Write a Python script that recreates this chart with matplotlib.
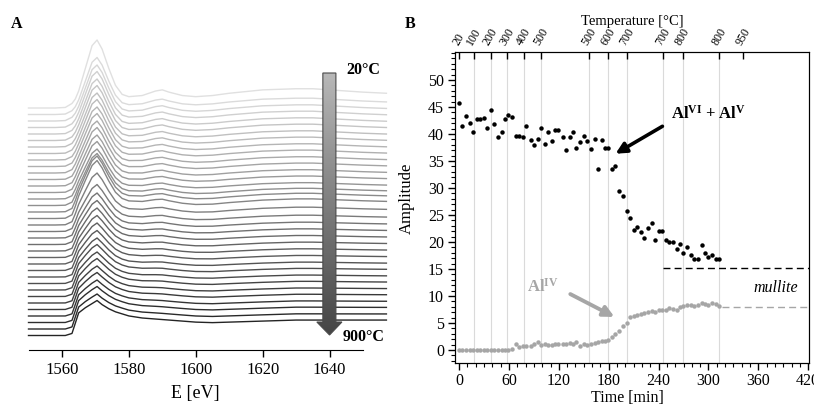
"""XANES spectra stack (A) and Al coordination amplitudes vs time (B)."""
import numpy as np
import matplotlib.pyplot as plt
from matplotlib.patches import Polygon

plt.rcParams['font.family'] = ['Liberation Serif', 'DejaVu Serif']
plt.rcParams['mathtext.fontset'] = 'custom'
plt.rcParams['mathtext.rm'] = 'Liberation Serif'
plt.rcParams['mathtext.bf'] = 'Liberation Serif:bold'
plt.rcParams['mathtext.it'] = 'Liberation Serif:italic'

# ---- panel A: spectra (shapes, px above each baseline)
energy_ev = [1550, 1558, 1561, 1563, 1564, 1565, 1567, 1569, 1570.5, 1572, 1574,
             1576, 1578, 1580, 1584, 1588, 1590, 1592, 1596, 1600, 1605, 1610,
             1620, 1630, 1635, 1640, 1650, 1657]
shape_20c = [0, 0, 0.5, 4, 8, 15, 35, 55, 60, 52, 35, 20, 12, 10, 11, 15, 16, 14,
             11, 10, 11, 13, 16, 17, 17, 16, 14, 13]
shape_900c = [0, 0, 0, 2, 12, 22, 27, 31, 34, 30, 26, 23, 21, 19, 17, 16, 15.5,
              15, 14, 13, 12.5, 13, 14, 15, 15, 15, 15, 15]
peak_height = [68, 57, 56, 56, 55, 55, 54, 54, 53, 53, 52, 52, 51, 51, 50, 52,
               56, 58, 52, 47, 45, 44, 43, 42, 41, 40, 39, 39, 38, 38, 37, 37,
               36, 36, 35, 35]
top_baseline = 242.0   # px above the E axis
trace_step = 6.5

# ---- panel B: amplitudes
time_min = [0, 4, 8, 12.8, 17, 21, 25, 29.5, 34, 38, 42, 46.5, 51, 55, 59, 64,
            68, 72.5, 77, 81, 86, 90, 94.5, 99, 103, 107, 111.5, 115.5, 119.5,
            124.5, 128.5, 133, 137, 141, 146, 150, 154, 159, 163, 167, 171.5,
            175.5, 179.5, 183.5, 187.5, 192, 197, 201.4, 205.8, 210, 214, 218.6,
            222.6, 227, 232, 236, 240, 244.5, 248.7, 253, 257.5, 261.6, 265.6,
            269.6, 274, 278.5, 283, 287, 291.7, 295.7, 300, 304.5, 308.5, 312.5]
amp_al6_al5 = [45.7, 41.5, 43.3, 42.1, 40.4, 42.8, 42.8, 43.0, 41.2, 44.4, 41.9,
               39.5, 40.4, 42.7, 43.6, 43.1, 39.6, 39.6, 39.4, 41.5, 38.9, 38.0,
               39.1, 41.1, 38.1, 40.4, 38.8, 40.7, 40.7, 39.4, 37.0, 39.4, 40.4,
               37.4, 38.6, 39.7, 38.8, 37.3, 39.1, 33.5, 38.9, 37.5, 37.5, 33.5,
               34.0, 29.5, 28.6, 25.7, 24.4, 22.3, 22.8, 21.9, 20.8, 22.6, 23.5,
               20.4, 22.0, 22.0, 20.4, 20.1, 20.1, 18.8, 19.6, 17.9, 19.1, 17.6,
               16.9, 16.9, 19.4, 17.9, 17.2, 17.6, 16.8, 16.8]
amp_al4 = [0.1, 0.1, 0.1, 0.1, 0.1, 0.1, 0.1, 0.1, 0.1, 0.1, 0.1, 0.1, 0.1, 0.1,
           0.1, 0.2, 1.1, 0.5, 0.75, 0.7, 0.8, 1.1, 1.4, 1.0, 1.1, 1.0, 1.0, 1.1,
           1.1, 1.2, 1.2, 1.35, 1.2, 1.4, 0.8, 1.1, 1.0, 1.2, 1.3, 1.5, 1.6, 1.7,
           1.9, 2.5, 3.0, 3.5, 4.4, 5.1, 6.1, 6.3, 6.5, 6.7, 6.8, 7.0, 7.3, 7.1,
           7.4, 7.5, 7.4, 7.8, 7.6, 7.5, 7.9, 8.15, 8.3, 8.3, 8.2, 8.3, 8.8, 8.5,
           8.3, 8.8, 8.5, 8.2]
temp_tick_time = [0, 18, 38, 57.5, 78, 99, 156, 179, 202, 245, 269, 313, 342]
temp_tick_label = ['20', '100', '200', '300', '400', '500', '500', '600', '700',
                   '700', '800', '800', '950']
mullite_al6_al5 = 15.2
mullite_al4 = 8.0

W, H = 814, 404
fig = plt.figure(figsize=(W / 100, H / 100), dpi=100)

# ================= A =================
axA = fig.add_axes([28.5 / W, (H - 350) / H, (363 - 28.5) / W, 320 / H])
e = np.array(energy_ev)
s20 = np.array(shape_20c); s900 = np.array(shape_900c)
n = len(peak_height)
for i, h in enumerate(peak_height):
    w = i / (n - 1)
    shp = (1 - w) * s20 + w * s900
    shp = shp * h / shp.max()
    g = 0.88 - 0.74 * w
    axA.plot(e, top_baseline - i * trace_step + shp, color=(g, g, g), lw=1.0,
             clip_on=False, solid_joinstyle='round')

# gradient arrow 20 -> 900 C
arrow_xy = [(1638.0, 277), (1641.9, 277), (1641.9, 28), (1643.7, 28),
            (1640.0, 15), (1636.2, 28), (1638.0, 28)]
poly = Polygon(arrow_xy, closed=True, fc='none', ec='#4a4a4a', lw=0.8, zorder=5)
axA.add_patch(poly)
grad = np.linspace(0.72, 0.27, 256).reshape(-1, 1)
im = axA.imshow(grad, cmap='gray', vmin=0, vmax=1, extent=(1636, 1644, 15, 277),
                aspect='auto', origin='upper', zorder=4)
im.set_clip_path(poly)
axA.text(1650.0, 280, '20°C', fontsize=11.5, fontweight='bold', ha='center', va='center')
axA.text(1650.3, 13, '900°C', fontsize=11.5, fontweight='bold', ha='center', va='center')

axA.set_xlim(1550, 1650)
axA.set_ylim(0, 320)
for s in ('left', 'right', 'top'):
    axA.spines[s].set_visible(False)
axA.set_yticks([])
axA.set_xticks([1560, 1580, 1600, 1620, 1640])
axA.tick_params(axis='x', direction='out', length=5, width=1, labelsize=12, pad=4)
axA.set_xlabel('E [eV]', fontsize=13, labelpad=5)
axA.set_facecolor('none')

# ================= B =================
axB = fig.add_axes([455 / W, (H - 363) / H, 354 / W, 311 / H])
axB.set_xlim(-5, 421)
axB.set_ylim(-2.4, 55.2)
for t in temp_tick_time[1:-1]:
    axB.axvline(t, color='#dadada', lw=0.8, zorder=0)
axB.plot(time_min, amp_al6_al5, 'o', ms=3.2, color='black', mec='none', zorder=3)
axB.plot(time_min, amp_al4, 'o', ms=3.2, color='#a6a6a6', mec='none', zorder=3)
axB.plot([245, 421], [mullite_al6_al5] * 2, color='black', lw=1, dashes=(5, 3))
axB.plot([316, 421], [mullite_al4] * 2, color='#a6a6a6', lw=1, dashes=(5, 3))

axB.annotate('', xy=(185.3, 36.1), xytext=(247.5, 41.7),
             arrowprops=dict(arrowstyle='-|>', lw=2.6, color='black', mutation_scale=16))
axB.annotate('', xy=(189.8, 5.9), xytext=(130.8, 10.6),
             arrowprops=dict(arrowstyle='-|>', lw=2.8, color='#a6a6a6', mutation_scale=16))
axB.text(300, 43.8, r'Al$^{\mathbf{VI}}$ + Al$^{\mathbf{V}}$', fontsize=12,
         fontweight='bold', ha='center', va='center')
axB.text(101, 11.8, r'Al$^{\mathbf{IV}}$', fontsize=12, fontweight='bold',
         color='#a6a6a6', ha='center', va='center')
axB.text(381, 11.5, 'mullite', fontsize=11.5, style='italic', ha='center', va='center')

axB.set_xticks(np.arange(0, 421, 60))
axB.set_xticks(np.arange(0, 421, 10), minor=True)
axB.set_yticks(np.arange(0, 51, 5))
axB.set_yticks(np.arange(-2, 56, 1), minor=True)
axB.tick_params(which='major', direction='out', length=5, width=1, labelsize=11.5, pad=3)
axB.tick_params(axis='x', which='major', pad=2)
axB.tick_params(which='minor', direction='out', length=3, width=0.8)
axB.set_xlabel('Time [min]', fontsize=11.5)
axB.set_ylabel('Amplitude', fontsize=12)
axB.xaxis.set_label_coords((627 - 455) / 354, (363 - 390.5) / 311)
axB.yaxis.set_label_coords((415 - 455) / 354, (363 - 198) / 311)

axT = axB.twiny()
axT.set_xlim(axB.get_xlim())
axT.set_xticks(temp_tick_time)
axT.set_xticklabels(temp_tick_label, rotation=60, ha='center', va='bottom')
axT.tick_params(direction='in', length=5, width=1, labelsize=8.5, pad=3)
axT.set_xlabel('Temperature [°C]', fontsize=10.5, labelpad=1)

fig.text(17 / W, 1 - 24 / H, 'A', fontsize=11.5, fontweight='bold', ha='center', va='center')
fig.text(410 / W, 1 - 24 / H, 'B', fontsize=11.5, fontweight='bold', ha='center', va='center')

fig.savefig('out.png', dpi=100)
